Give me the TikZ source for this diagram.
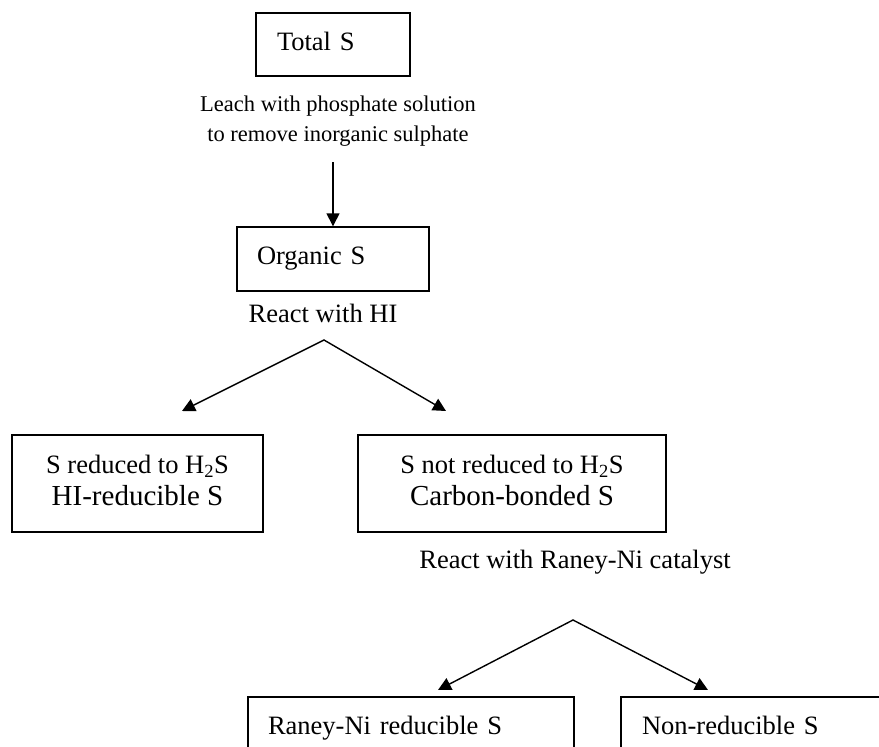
\documentclass[tikz,border=0pt]{standalone}
\usepackage{fontspec}
\setmainfont{Liberation Serif}
\usetikzlibrary{arrows.meta}

\begin{document}
\begin{tikzpicture}[x=1pt, y=-1pt, >={Triangle[length=13pt,width=13pt]},
    box/.style={draw, line width=1.4pt, inner ysep=0pt, text depth=6pt, align=left, font=\boxfont},
    lbl/.style={inner sep=0pt, align=center},
    flow/.style={line width=1.4pt}]
    \def\boxfont{\fontsize{26.5}{32}\selectfont}
    \def\boxbig{\fontsize{29}{32}\selectfont}
    \def\stepfont{\fontsize{22.5}{30}\selectfont}

    % Page frame
    \clip (0,0) rectangle (879,747);

    % Total sulphur and leaching step
    \node[box, text width=112pt, inner xsep=21pt, minimum height=63pt] (total) at (333,44.5) {Total S};
    \node[lbl, font=\stepfont] (leach) at (338,121) {Leach with phosphate solution\\to remove inorganic sulphate};
    \coordinate (leachend) at (333,162);

    % Organic sulphur
    \node[box, text width=152pt, inner xsep=20pt, minimum height=64pt] (organic) at (333,259) {Organic S};
    \draw[flow, ->] (leachend) -- (organic.north);

    % HI step
    \node[lbl, font=\boxfont] (hi) at (323,313) {React with HI};
    \coordinate (apexHI) at (324,340);
    \coordinate (tipL) at (182,411);
    \coordinate (tipR) at (446,411);
    \draw[flow, <->] (tipL) -- (apexHI) -- (tipR);

    \node[box, align=center, minimum width=251pt, minimum height=97pt] (hired) at (137.5,483.5)
        {S reduced to H\textsubscript{2}S\\\boxbig HI-reducible S};
    \node[box, align=center, minimum width=308pt, minimum height=97pt] (carbon) at (512,483.5)
        {S not reduced to H\textsubscript{2}S\\\boxbig Carbon-bonded S};

    % Raney-Ni step
    \node[lbl, font=\boxfont] (raney) at (575,562) {React with Raney-Ni catalyst};
    \coordinate (apexNi) at (573,620);
    \coordinate (tipNiL) at (438,690);
    \coordinate (tipNiR) at (708,690);
    \draw[flow, <->] (tipNiL) -- (apexNi) -- (tipNiR);

    \node[box, text width=286pt, inner xsep=20pt, minimum height=63pt] (nired) at (411,728.5) {Raney-Ni reducible S};
    \node[box, text width=240pt, inner xsep=21pt, minimum height=63pt] (nonred) at (762,728.5) {Non-reducible S};
\end{tikzpicture}
\end{document}
